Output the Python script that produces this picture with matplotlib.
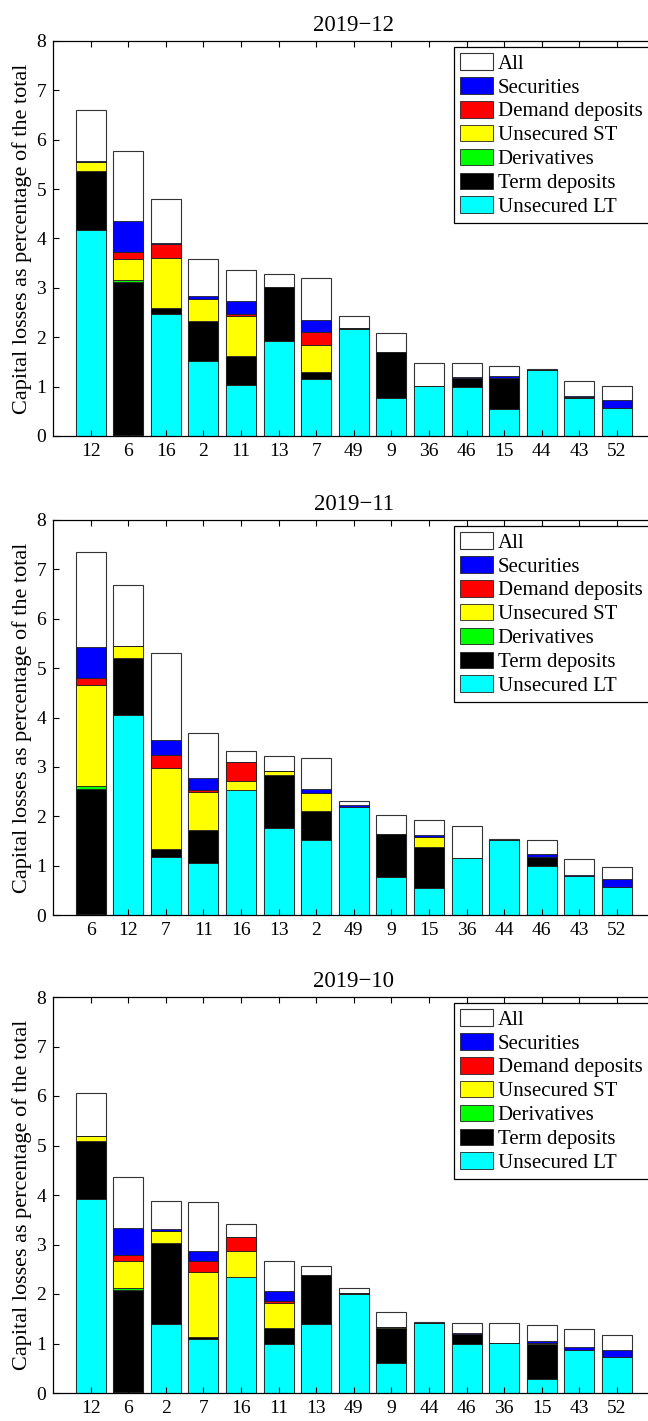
import numpy as np
import matplotlib
matplotlib.use("Agg")
import matplotlib.pyplot as plt

plt.rcParams['font.family'] = ['Liberation Serif', 'DejaVu Serif']
plt.rcParams['font.size'] = 14

# component names (legend order) and colours
names = ["All", "Securities", "Demand deposits", "Unsecured ST",
         "Derivatives", "Term deposits", "Unsecured LT"]
colors = ["white", "#0000FF", "#FF0000", "#FFFF00", "#00FF00", "#000000", "#00FFFF"]

# ---- 2019-12 ----
labels_dec = ["12", "6", "16", "2", "11", "13", "7", "49", "9", "36", "46", "15", "44", "43", "52"]
all_dec = [6.60, 5.77, 4.79, 3.59, 3.37, 3.29, 3.21, 2.44, 2.09, 1.47, 1.47, 1.41, 1.35, 1.11, 1.01]
lt_dec = [4.17, 0.02, 2.47, 1.51, 1.04, 1.92, 1.16, 2.17, 0.76, 1.01, 0.99, 0.55, 1.34, 0.76, 0.57]
term_dec = [1.20, 3.09, 0.12, 0.81, 0.58, 1.10, 0.14, 0.01, 0.95, 0.00, 0.19, 0.63, 0.00, 0.02, 0.00]
deriv_dec = [0.00, 0.04, 0, 0, 0, 0, 0, 0, 0, 0, 0, 0, 0, 0, 0]
st_dec = [0.17, 0.44, 1.02, 0.45, 0.82, 0, 0.54, 0, 0, 0, 0, 0, 0, 0, 0]
dem_dec = [0.01, 0.13, 0.27, 0.01, 0.04, 0, 0.26, 0, 0, 0, 0, 0, 0, 0, 0]
sec_dec = [0.01, 0.64, 0.02, 0.06, 0.25, 0, 0.24, 0, 0, 0, 0.02, 0.03, 0, 0.03, 0.15]

# ---- 2019-11 ----
labels_nov = ["6", "12", "7", "11", "16", "13", "2", "49", "9", "15", "36", "44", "46", "43", "52"]
all_nov = [7.35, 6.68, 5.31, 3.68, 3.33, 3.23, 3.17, 2.30, 2.02, 1.93, 1.80, 1.53, 1.51, 1.13, 0.97]
lt_nov = [0.02, 4.06, 1.18, 1.06, 2.53, 1.77, 1.52, 2.18, 0.77, 0.54, 1.16, 1.51, 0.99, 0.78, 0.57]
term_nov = [2.53, 1.15, 0.16, 0.67, 0, 1.06, 0.59, 0, 0.88, 0.84, 0, 0, 0.19, 0, 0]
deriv_nov = [0.06, 0, 0, 0, 0, 0, 0, 0, 0, 0, 0, 0, 0, 0, 0]
st_nov = [2.05, 0.24, 1.63, 0.77, 0.19, 0.08, 0.37, 0, 0, 0.20, 0, 0, 0, 0, 0]
dem_nov = [0.15, 0, 0.28, 0.03, 0.37, 0, 0, 0, 0, 0, 0, 0, 0, 0, 0]
sec_nov = [0.62, 0, 0.29, 0.25, 0, 0, 0.07, 0.05, 0, 0.05, 0, 0, 0.06, 0.04, 0.15]

# ---- 2019-10 ----
labels_oct = ["12", "6", "2", "7", "16", "11", "13", "49", "9", "44", "46", "36", "15", "43", "52"]
all_oct = [6.06, 4.36, 3.88, 3.85, 3.41, 2.66, 2.57, 2.13, 1.63, 1.43, 1.42, 1.41, 1.38, 1.30, 1.18]
lt_oct = [3.92, 0.02, 1.40, 1.10, 2.34, 0.98, 1.40, 2.01, 0.60, 1.42, 0.98, 1.02, 0.29, 0.87, 0.72]
term_oct = [1.17, 2.06, 1.63, 0.03, 0, 0.33, 0.98, 0.01, 0.71, 0, 0.21, 0, 0.69, 0, 0]
deriv_oct = [0, 0.04, 0, 0, 0, 0, 0, 0, 0, 0, 0, 0, 0, 0, 0]
st_oct = [0.11, 0.54, 0.25, 1.32, 0.52, 0.51, 0, 0, 0.02, 0, 0, 0, 0.03, 0, 0]
dem_oct = [0, 0.13, 0, 0.21, 0.30, 0.04, 0, 0, 0, 0, 0, 0, 0, 0, 0]
sec_oct = [0, 0.55, 0.03, 0.20, 0, 0.21, 0, 0, 0, 0, 0.03, 0, 0.05, 0.05, 0.14]

panels = [
    ("2019\u221212", labels_dec, all_dec, [lt_dec, term_dec, deriv_dec, st_dec, dem_dec, sec_dec]),
    ("2019\u221211", labels_nov, all_nov, [lt_nov, term_nov, deriv_nov, st_nov, dem_nov, sec_nov]),
    ("2019\u221210", labels_oct, all_oct, [lt_oct, term_oct, deriv_oct, st_oct, dem_oct, sec_oct]),
]

W, H = 648, 1421
fig = plt.figure(figsize=(W / 100, H / 100), dpi=100)

# axes boxes in pixels: (top, bottom); right edge runs past the figure
tops_bottoms = [(41, 436), (520, 915), (997, 1393)]
left_px, width_px = 53, 601.6

stack_colors = colors[1:][::-1]   # LT, Term, Deriv, ST, Demand, Securities
stack_names = names[1:][::-1]

for (title, labels, total, comps), (top, bot) in zip(panels, tops_bottoms):
    ax = fig.add_axes([left_px / W, 1 - bot / H, width_px / W, (bot - top) / H])
    x = np.arange(1, len(labels) + 1)
    handles = {}
    handles["All"] = ax.bar(x, total, width=0.8, color="white", edgecolor="#333333", linewidth=0.8)
    bottom = np.zeros(len(labels))
    for vals, c, n in zip(comps, stack_colors, stack_names):
        vals = np.array(vals, dtype=float)
        handles[n] = ax.bar(x, vals, width=0.8, bottom=bottom, color=c,
                            edgecolor="#222222", linewidth=0.6)
        bottom += vals
    ax.set_xlim(0, 16)
    ax.set_ylim(0, 8)
    ax.set_xticks(x)
    ax.set_xticklabels(labels)
    ax.set_yticks(range(0, 9))
    ax.tick_params(direction="in", top=True, right=True, length=4, width=0.8, labelsize=14, pad=5)
    for s in ax.spines.values():
        s.set_linewidth(0.9)
    ax.set_ylabel("Capital losses as percentage of the total", fontsize=16, labelpad=3)
    ax.set_title(title, fontsize=16.5, pad=7)
    leg = ax.legend([handles[n] for n in names], names, loc="upper right",
                    bbox_to_anchor=((648.5 - left_px) / width_px, 1 - 6 / (bot - top)),
                    borderaxespad=0, fancybox=False, edgecolor="black", framealpha=1,
                    fontsize=15, handlelength=1.6, handleheight=0.85, handletextpad=0.2,
                    labelspacing=0.16, borderpad=0.3)
    leg.get_frame().set_linewidth(0.9)

fig.savefig("out.png", dpi=100)
